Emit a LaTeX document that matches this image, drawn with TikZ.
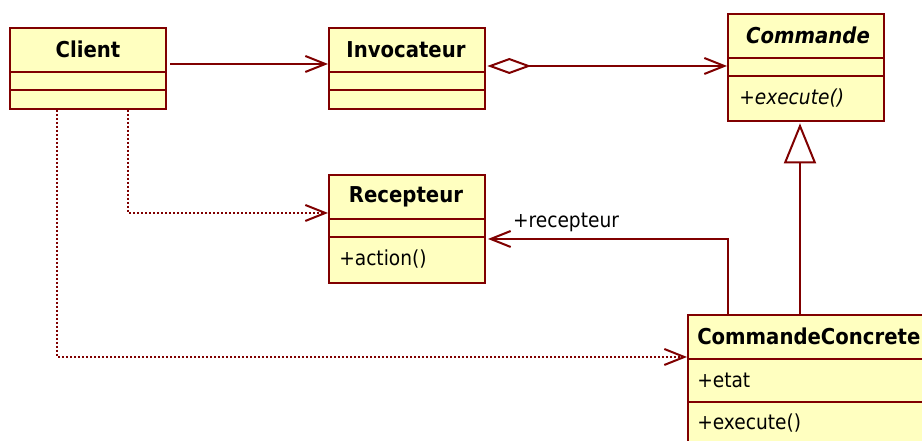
\documentclass[tikz,border=0pt]{standalone}
\usepackage{fontspec}
\setmainfont{DejaVu Sans}[FakeStretch=0.9]
\usetikzlibrary{arrows.meta}
\definecolor{umlred}{RGB}{128,0,0}
\definecolor{umlfill}{RGB}{255,255,192}
\begin{document}
\begin{tikzpicture}[x=0.75pt,y=-0.75pt,
  cls/.style={draw=umlred, fill=umlfill, line width=1.5pt, anchor=north west, inner sep=0pt, minimum width=117pt},
  sep/.style={draw=umlred, line width=1.5pt},
  hdr/.style={font=\fontsize{16.4pt}{18pt}\selectfont\bfseries, inner sep=0pt},
  mem/.style={font=\fontsize{15.5pt}{18pt}\selectfont, anchor=west, inner sep=0pt},
  conn/.style={draw=umlred, line width=1.5pt},
  assoc/.style={conn, -{Straight Barb[length=15pt,width=12pt]}},
  dep/.style={draw=umlred, line width=1.5pt, dash pattern=on 1.5pt off 1.5pt, -{Straight Barb[length=15pt,width=12pt]}},
  agg/.style={conn, {Diamond[open,length=33pt,width=12pt]}-{Straight Barb[length=15pt,width=12pt]}},
  inh/.style={conn, -{Triangle[open,length=30pt,width=24pt,fill=white]}}
]
\useasboundingbox (0,0) rectangle (922,441);
\clip (0,0) rectangle (922,441);
\fill[white] (0,0) rectangle (922,441);

% Client
\node[cls, minimum height=60.75pt] (client) at (9,27) {};
\node[hdr] (clientT) at (88,49.5) {Client};
\draw[sep] (client.west |- 0,72) -- (client.east |- 0,72);
\draw[sep] (client.west |- 0,90) -- (client.east |- 0,90);

% Invocateur
\node[cls, minimum height=60.75pt] (inv) at (328,27) {};
\node[hdr] (invT) at (406,49.5) {Invocateur};
\draw[sep] (inv.west |- 0,72) -- (inv.east |- 0,72);
\draw[sep] (inv.west |- 0,90) -- (inv.east |- 0,90);

% Commande
\node[cls, minimum height=80.25pt] (cmd) at (727,13) {};
\node[hdr, font=\fontsize{16.4pt}{18pt}\selectfont\bfseries\itshape] (cmdT) at (808,35.5) {Commande};
\draw[sep] (cmd.west |- 0,58) -- (cmd.east |- 0,58);
\draw[sep] (cmd.west |- 0,76) -- (cmd.east |- 0,76);
\node[mem, font=\fontsize{15.5pt}{18pt}\selectfont\itshape] (cmdM) at (739,98) {+execute()};

% Recepteur
\node[cls, minimum height=81pt] (rec) at (328,174) {};
\node[hdr] (recT) at (406,196.5) {Recepteur};
\draw[sep] (rec.west |- 0,219) -- (rec.east |- 0,219);
\draw[sep] (rec.west |- 0,237) -- (rec.east |- 0,237);
\node[mem] (recM) at (339,259) {+action()};

% CommandeConcrete
\node[cls, minimum width=200pt, minimum height=112.5pt] (cc) at (687,314) {};
\node[hdr, anchor=west] (ccT) at (697,336.5) {CommandeConcrete};
\draw[sep] (cc.west |- 0,359) -- (cc.east |- 0,359);
\draw[sep] (cc.west |- 0,402) -- (cc.east |- 0,402);
\node[mem] (ccA) at (697,380.5) {+etat};
\node[mem] (ccM) at (697,423) {+execute()};

% Connectors
\draw[assoc] ([xshift=2.25pt]client.east |- 0,64) -- (inv.west |- 0,64);
\draw[agg] ([xshift=1pt]inv.east |- 0,66) -- (cmd.west |- 0,66);
\draw[inh] (cc.north -| 800,0) -- ([yshift=-1pt]cmd.south -| 800,0);
\coordinate (bend) at (728,239);
\draw[assoc] (cc.north -| bend) -- (bend) -- ([xshift=1.5pt]rec.east |- bend);
\node[mem, anchor=center] (lbl) at (566,222) {+recepteur};
\coordinate (d1) at (57,357);
\coordinate (d2) at (128,213);
\draw[dep] (client.south -| d1) -- (d1) -- (cc.west |- d1);
\draw[dep] (client.south -| d2) -- (d2) -- (rec.west |- d2);
\end{tikzpicture}
\end{document}
